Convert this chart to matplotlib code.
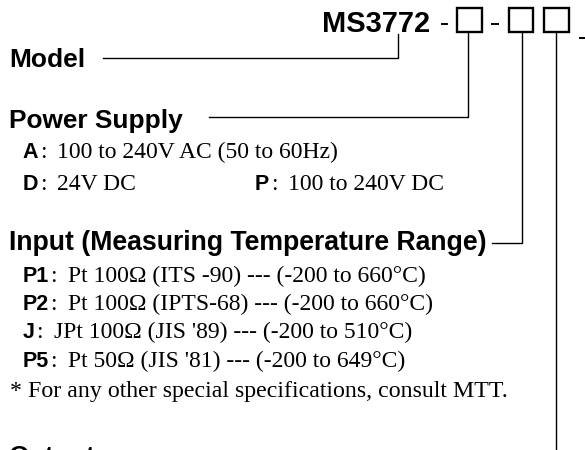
import matplotlib
matplotlib.use("Agg")
import matplotlib.pyplot as plt
from matplotlib.patches import Rectangle

# ---- content ----
model_code = "MS3772"
headers = ["Model", "Power Supply", "Input (Measuring Temperature Range)", "Output"]
power_codes = ["A", "D", "P"]
power_desc = ["100 to 240V AC (50 to 60Hz)", "24V DC", "100 to 240V DC"]
input_codes = ["P1", "P2", "J", "P5"]
input_desc = [
    "Pt 100\u03a9 (ITS -90) --- (-200 to 660\u00b0C)",
    "Pt 100\u03a9 (IPTS-68) --- (-200 to 660\u00b0C)",
    "JPt 100\u03a9 (JIS '89) --- (-200 to 510\u00b0C)",
    "Pt 50\u03a9 (JIS '81) --- (-200 to 649\u00b0C)",
]
note = "* For any other special specifications, consult MTT."

SANS = "Liberation Sans"
SERIF = "Liberation Serif"

fig = plt.figure(figsize=(5.85, 4.5), dpi=100)
ax = fig.add_axes([0, 0, 1, 1])
ax.set_xlim(0, 585)
ax.set_ylim(450, 0)
ax.axis("off")
fig.canvas.draw()
renderer = fig.canvas.get_renderer()
inv = ax.transData.inverted()

LW = 1.0


def text_end(t):
    bb = t.get_window_extent(renderer)
    return inv.transform((bb.x1, bb.y0))[0]


def code_line(x, y, code, desc):
    t = ax.text(x, y, code, fontfamily=SANS, fontweight="bold", fontsize=15.5,
                va="baseline", ha="left")
    xe = text_end(t)
    ax.text(xe + 1.5, y, ":", fontfamily=SERIF, fontsize=17, va="baseline", ha="left")
    ax.text(xe + 19, y, desc, fontfamily=SERIF, fontsize=17, va="baseline", ha="left")


# title row
ax.text(322, 32.3, model_code, fontfamily=SANS, fontweight="bold", fontsize=20.9,
        va="baseline", ha="left")
ax.plot([441.5, 447], [24.3, 24.3], color="black", lw=1.4)
ax.plot([491.5, 498], [23.5, 23.5], color="black", lw=1.4)
ax.plot([579.5, 586], [37.7, 37.7], color="black", lw=1.4)
boxes = [(457.3, 482.3), (509.3, 533.3), (544.3, 568.7)]
for x0, x1 in boxes:
    ax.add_patch(Rectangle((x0, 8.0), x1 - x0, 24.0, fill=False, ec="black", lw=1.7))

# Model
ax.text(9.3, 66.7, headers[0], fontfamily=SANS, fontweight="bold", fontsize=19,
        va="baseline", ha="left")
ax.plot([102.7, 398.3, 398.3], [58.3, 58.3, 33.5], color="black", lw=LW)

# Power supply
ax.text(9.3, 128.3, headers[1], fontfamily=SANS, fontweight="bold", fontsize=18.9,
        va="baseline", ha="left")
ax.plot([209, 468.3, 468.3], [116.7, 116.7, 32.3], color="black", lw=LW)
code_line(22.7, 158.3, power_codes[0], power_desc[0])
code_line(22.7, 190, power_codes[1], power_desc[1])
code_line(255, 190, power_codes[2], power_desc[2])

# Input
ax.text(9.0, 250, headers[2], fontfamily=SANS, fontweight="bold", fontsize=19.2,
        va="baseline", ha="left")
ax.plot([491.7, 522.3, 522.3], [243.3, 243.3, 31.7], color="black", lw=LW)
ys = [281.7, 310, 338.3, 366.7]
for y, c, d in zip(ys, input_codes, input_desc):
    code_line(22.7, y, c, d)
ax.text(10, 396.7, note, fontfamily=SERIF, fontsize=17.2, va="baseline", ha="left")

# Output (partly cut by the bottom edge, as in the reference)
ax.text(9.3, 464, headers[3], fontfamily=SANS, fontweight="bold", fontsize=19,
        va="baseline", ha="left", clip_on=False)
ax.plot([555.9, 555.9], [31.7, 452], color="black", lw=LW)

fig.savefig("out.png", dpi=100, facecolor="white")
